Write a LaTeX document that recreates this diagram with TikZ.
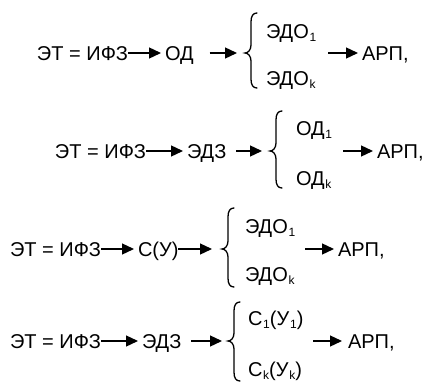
\documentclass[tikz,border=0pt]{standalone}
\usepackage{fontspec}
\setmainfont{Liberation Sans}
\usetikzlibrary{arrows.meta}

% small lowered index after a symbol
\newcommand{\idx}[1]{\kern0.8pt\raisebox{-0.3ex}{\fontsize{12}{12}\selectfont #1}}

\tikzset{
  x=1pt, y=-1pt,
  term/.style={inner sep=0pt, outer sep=0pt, font=\fontsize{20}{20}\selectfont, anchor=base west},
  flow/.style={line width=1.3pt, -{Triangle[length=12pt,width=11pt]}},
  bracepath/.style={line width=1.3pt, line cap=round}
}

% curly brace: tip (#1,#2), top #3, bottom #4
\newcommand{\curly}[4]{%
  \draw[bracepath] (#1+12,#3) .. controls (#1+8,#3) and (#1+6,#3+3) .. (#1+6,#3+9)
    -- (#1+6,#2-8) .. controls (#1+6,#2-3) and (#1+3,#2) .. (#1,#2)
    .. controls (#1+3,#2) and (#1+6,#2+3) .. (#1+6,#2+8)
    -- (#1+6,#4-9) .. controls (#1+6,#4-3) and (#1+8,#4) .. (#1+12,#4);}

\begin{document}
\begin{tikzpicture}
\useasboundingbox (0,0) rectangle (432,383);

% ---- row 1 ----
\node[term] (l1) at (37,60) {ЭТ = ИФЗ};
\node[term] (m1) at (165,60) {ОД};
\coordinate (b1) at (245,53);
\node[term] (t1) at (266,38) {ЭДО\idx{1}};
\node[term] (u1) at (266,85) {ЭДО\idx{k}};
\coordinate (s1) at (328,53);
\node[term] (r1) at (362,60) {АРП,};
\draw[flow, shorten >=4pt] (l1.east |- b1) -- (m1.west |- b1);
\draw[flow, shorten <=16pt, shorten >=8pt] (m1.east |- b1) -- (b1);
\curly{245}{53}{13}{88}
\draw[flow, shorten >=4pt] (s1) -- (r1.west |- s1);

% ---- row 2 ----
\node[term] (l2) at (55,158) {ЭТ = ИФЗ};
\node[term] (m2) at (187,158) {ЭДЗ};
\coordinate (b2) at (270,151);
\node[term] (t2) at (296,135) {ОД\idx{1}};
\node[term] (u2) at (296,185) {ОД\idx{k}};
\coordinate (s2) at (343,151);
\node[term] (r2) at (377,158) {АРП,};
\draw[flow, shorten >=4pt] (l2.east |- b2) -- (m2.west |- b2);
\draw[flow, shorten <=10pt, shorten >=8pt] (m2.east |- b2) -- (b2);
\curly{270}{151}{111}{188}
\draw[flow, shorten >=4pt] (s2) -- (r2.west |- s2);

% ---- row 3 ----
\node[term] (l3) at (10,256) {ЭТ = ИФЗ};
\node[term] (m3) at (138,256) {С(У)};
\coordinate (b3) at (222,249);
\node[term] (t3) at (245,233) {ЭДО\idx{1}};
\node[term] (u3) at (245,281) {ЭДО\idx{k}};
\coordinate (s3) at (305,249);
\node[term] (r3) at (338,256) {АРП,};
\draw[flow, shorten >=4pt] (l3.east |- b3) -- (m3.west |- b3);
\draw[flow, shorten >=10pt] (m3.east |- b3) -- (b3);
\curly{222}{249}{208}{287}
\draw[flow, shorten >=4pt] (s3) -- (r3.west |- s3);

% ---- row 4 ----
\node[term] (l4) at (10,348) {ЭТ = ИФЗ};
\node[term] (m4) at (142,348) {ЭДЗ};
\coordinate (b4) at (228,341);
\node[term] (t4) at (248,325) {С\idx{1}(У\idx{1})};
\node[term] (u4) at (248,376) {С\idx{k}(У\idx{k})};
\coordinate (s4) at (313,341);
\node[term] (r4) at (348,348) {АРП,};
\draw[flow, shorten >=4pt] (l4.east |- b4) -- (m4.west |- b4);
\draw[flow, shorten <=10pt, shorten >=6pt] (m4.east |- b4) -- (b4);
\curly{228}{341}{302}{381}
\draw[flow, shorten >=6pt] (s4) -- (r4.west |- s4);
\end{tikzpicture}
\end{document}
